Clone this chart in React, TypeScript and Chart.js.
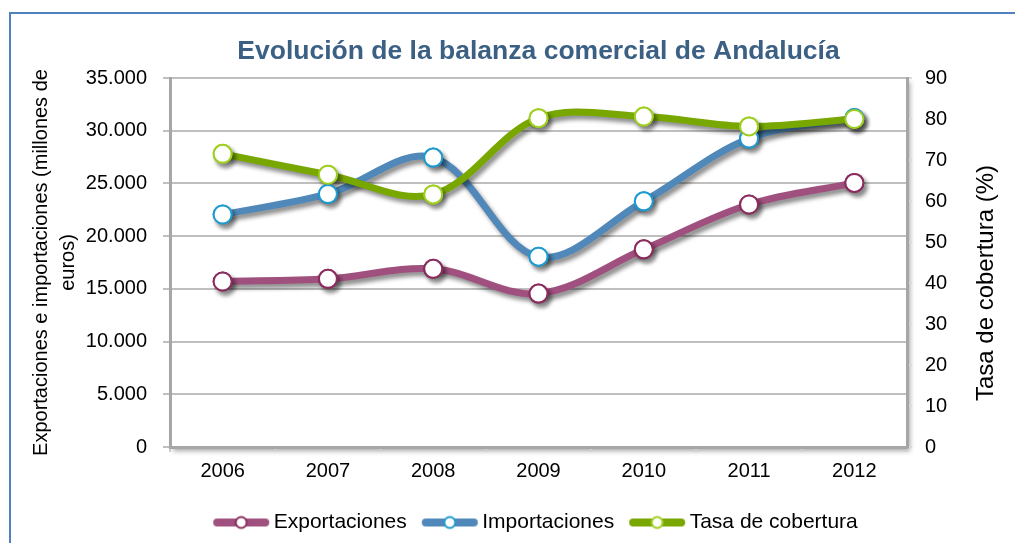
import React, { useEffect, useRef } from "react";
import { Chart, registerables } from "chart.js";

Chart.register(...registerables);

const categories = ["2006", "2007", "2008", "2009", "2010", "2011", "2012"];
const exportaciones = [15700, 15950, 16900, 14550, 18750, 23000, 25050];
const importaciones = [22050, 24000, 27450, 18050, 23300, 29250, 31200];
const tasaCobertura = [71.5, 66.4, 61.6, 80.2, 80.6, 78.2, 80.0];
const seriesNames = ["Exportaciones", "Importaciones", "Tasa de cobertura"];
const chartTitle = "Evolución de la balanza comercial de Andalucía";
const leftTitle = ["Exportaciones e importaciones (millones de", "euros)"];
const rightTitle = "Tasa de cobertura (%)";

const FONT = "'Liberation Sans', Arial, sans-serif";

function makeIcon(lineColor: string, markerColor: string) {
  const c = document.createElement("canvas");
  c.width = 58;
  c.height = 16;
  const g = c.getContext("2d")!;
  g.strokeStyle = lineColor;
  g.lineWidth = 8;
  g.lineCap = "round";
  g.beginPath();
  g.moveTo(5, 8);
  g.lineTo(53, 8);
  g.stroke();
  g.beginPath();
  g.arc(29, 8, 5.5, 0, Math.PI * 2);
  g.fillStyle = "#ffffff";
  g.fill();
  g.lineWidth = 2;
  g.strokeStyle = markerColor;
  g.stroke();
  return c;
}

const fmt = (v: number) => String(v).replace(/\B(?=(\d{3})+(?!\d))/g, ".");

export default function App() {
  const ref = useRef<HTMLCanvasElement | null>(null);
  useEffect(() => {
    if (!ref.current) return;
    const lineColors = ["#A0507E", "#4F88B9", "#78A700"];
    const markerColors = ["#8A2C5E", "#1E9AD0", "#9ECF1E"];
    const icons = lineColors.map((c, i) => makeIcon(c, markerColors[i]));

    const framePlugin = {
      id: "frameAndShadow",
      beforeDraw(chart: any) {
        const { ctx, chartArea: a } = chart;
        ctx.save();
        ctx.strokeStyle = "#4F81BD";
        ctx.lineWidth = 2;
        ctx.beginPath();
        ctx.moveTo(10, 560);
        ctx.lineTo(10, 13);
        ctx.lineTo(1030, 13);
        ctx.stroke();
        ctx.shadowColor = "rgba(0,0,0,0.35)";
        ctx.shadowBlur = 5;
        ctx.shadowOffsetX = 3;
        ctx.shadowOffsetY = 4;
        ctx.fillStyle = "#ffffff";
        ctx.fillRect(a.left, a.top, a.right - a.left, a.bottom - a.top);
        ctx.restore();
      },
      beforeDatasetsDraw(chart: any) {
        const ctx = chart.ctx;
        ctx.save();
        ctx.shadowColor = "rgba(0,0,0,0.45)";
        ctx.shadowBlur = 4;
        ctx.shadowOffsetX = 3;
        ctx.shadowOffsetY = 4;
      },
      afterDatasetsDraw(chart: any) {
        const ctx = chart.ctx;
        ctx.restore();
        // redraw markers without shadow so their fill stays clean white
        const metas = chart.getSortedVisibleDatasetMetas();
        for (let i = metas.length - 1; i >= 0; i--) {
          metas[i].data.forEach((p: any) => p.draw(ctx, chart.chartArea));
        }
      },
      afterDraw(chart: any) {
        const ctx = chart.ctx;
        ctx.save();
        ctx.translate(986, 283);
        ctx.rotate(-Math.PI / 2);
        ctx.font = "24px " + FONT;
        ctx.fillStyle = "#000000";
        ctx.textAlign = "center";
        ctx.textBaseline = "middle";
        ctx.fillText(rightTitle, 0, 0);
        ctx.restore();
      },
    };

    const ds = (label: string, data: number[], i: number, axis: string, order: number) => ({
      label,
      data,
      yAxisID: axis,
      order,
      borderColor: lineColors[i],
      backgroundColor: lineColors[i],
      borderWidth: 7,
      tension: 0.35,
      pointRadius: 9,
      pointHoverRadius: 9,
      pointBorderWidth: 2,
      pointBackgroundColor: "#ffffff",
      pointBorderColor: markerColors[i],
      clip: false as any,
    });

    const chart = new Chart(ref.current, {
      type: "line",
      data: {
        labels: categories,
        datasets: [
          ds(seriesNames[0], exportaciones, 0, "y", 3),
          ds(seriesNames[1], importaciones, 1, "y", 2),
          ds(seriesNames[2], tasaCobertura, 2, "y2", 1),
        ],
      },
      plugins: [framePlugin],
      options: {
        responsive: false,
        animation: false,
        layout: { padding: { left: 0, right: 0, top: 0, bottom: 0 } },
        font: { family: FONT },
        plugins: {
          tooltip: { enabled: false },
          title: {
            display: true,
            fullSize: false,
            text: chartTitle,
            color: "#3B6084",
            font: { family: FONT, size: 26.5, weight: "bold" },
            padding: { top: 36, bottom: 10.2 },
          },
          legend: {
            position: "bottom",
            fullSize: false,
            reverse: true,
            labels: {
              usePointStyle: true,
              pointStyleWidth: 44,
              padding: 21,
              color: "#000000",
              font: { family: FONT, size: 21 },
              generateLabels: (c: any) => {
                const items = (Chart.defaults.plugins.legend.labels as any).generateLabels(c);
                items.forEach((it: any) => {
                  it.pointStyle = icons[it.datasetIndex];
                  it.lineWidth = 0;
                });
                return items;
              },
            },
          },
        },
        scales: {
          x: {
            offset: true,
            afterFit: (s: any) => {
              s.height = 44;
            },
            grid: {
              offset: true,
              drawOnChartArea: false,
              tickLength: 5,
              color: "#D0D0D0",
              lineWidth: 2,
            },
            border: { display: true, color: "#A6A6A6", width: 3 },
            ticks: {
              color: "#000000",
              padding: 7,
              font: { family: FONT, size: 20 },
            },
          },
          y: {
            position: "left",
            min: 0,
            max: 35000,
            afterFit: (s: any) => {
              s.width = 170;
            },
            ticks: {
              stepSize: 5000,
              color: "#000000",
              padding: 16,
              font: { family: FONT, size: 20 },
              callback: (v: any) => fmt(Number(v)),
            },
            grid: {
              color: "#BFBFBF",
              lineWidth: 2,
              tickLength: 7,
            },
            border: { display: true, color: "#A6A6A6", width: 3 },
            title: {
              display: true,
              text: leftTitle,
              color: "#000000",
              font: { family: FONT, size: 20, lineHeight: 1.35 },
              padding: { top: 27.5, bottom: 0 },
            },
          },
          y2: {
            position: "right",
            min: 0,
            max: 90,
            afterFit: (s: any) => {
              s.width = 108;
            },
            ticks: {
              stepSize: 10,
              color: "#000000",
              padding: 13,
              font: { family: FONT, size: 20 },
            },
            grid: {
              drawOnChartArea: false,
              color: "#D9D9D9",
              lineWidth: 2,
              tickLength: 5,
            },
            border: { display: true, color: "#A6A6A6", width: 3 },
          },
        },
      } as any,
    });
    return () => chart.destroy();
  }, []);

  return (
    <div style={{ position: "absolute", left: 0, top: 0, width: 1015, height: 543, background: "#ffffff" }}>
      <canvas ref={ref} width={1015} height={543} />
    </div>
  );
}
